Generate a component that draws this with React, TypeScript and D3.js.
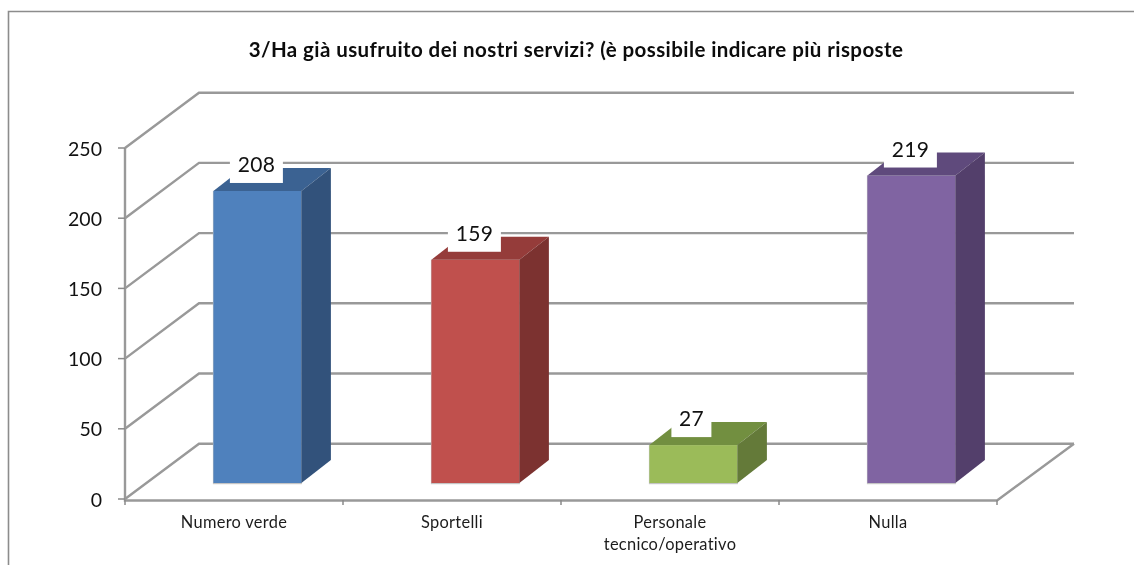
import React from "react";
import * as d3 from "d3";

const title = "3/Ha già usufruito dei nostri servizi? (è possibile indicare più risposte";
const categories = ["Numero verde", "Sportelli", "Personale|tecnico/operativo", "Nulla"];
const values = [208, 159, 27, 219];
const yTicks = [0, 50, 100, 150, 200, 250];
const faceColors = ["#4f81bd", "#c0504d", "#9bbb59", "#8064a2"];
const sideColors = ["#32527b", "#7c3230", "#647a39", "#533f6b"];
const topColors = ["#3b6292", "#953c3a", "#728f40", "#5f4a7c"];

const W = 1134;
const H = 565;
const FONT = "Lato, Carlito, Calibri, sans-serif";
const GRID = "#999999";

const x = d3.scaleBand<string>().domain(categories).range([125, 997]).paddingInner(0).paddingOuter(0);
const y = d3.scaleLinear().domain([0, 250]).range([499, 148]);
const backLeft = 199;
const backRight = 1074;
const wallDy = -55.3;
const barFront = 483;
const barLeft = 88.4;
const barWidth = 88;
const barDx = 29.5;
const barDy = -23;
const yBar = (v: number) => barFront - (y(0) - y(v));

export default function App() {
  const step = x.bandwidth();
  const [x0Axis, x1Axis] = x.range();
  return (
    <svg
      width={W}
      height={H}
      viewBox={`0 0 ${W} ${H}`}
      style={{ position: "absolute", left: 0, top: 0, filter: "blur(0.45px)" }}
    >
      <rect width={W} height={H} fill="#ffffff" />
      <path d={`M8.5 ${H}V11.5H${W}`} fill="none" stroke="#8c8c8c" strokeWidth={1.6} />
      <text
        x={576}
        y={57}
        textAnchor="middle"
        fontFamily={FONT}
        fontWeight={700}
        fontSize={20.5}
        letterSpacing={0.42}
        fill="#0c0c0c"
      >
        {title}
      </text>

      {/* walls and gridlines */}
      <g fill="none" stroke={GRID} strokeWidth={2.4}>
        {yTicks.map((t) => (
          <path key={t} d={`M${x0Axis} ${y(t)}L${backLeft} ${y(t) + wallDy}H${backRight}`} />
        ))}
        <path d={`M${x0Axis} ${y(250)}V${y(0) + 1.5}H${x1Axis}L${backRight} ${y(0) + wallDy}`} />
      </g>
      <g stroke="#8a8a8a" strokeWidth={1.5}>
        {yTicks.map((t) => (
          <line key={t} x1={118} x2={125} y1={y(t)} y2={y(t)} />
        ))}
        {[...categories.map((c) => x(c) as number), x1Axis].map((px) => (
          <line key={px} x1={px} x2={px} y1={y(0) + 1} y2={y(0) + 6} />
        ))}
      </g>

      {yTicks.map((t) => (
        <text key={t} x={102} y={y(t) + 7.5} textAnchor="end" fontFamily={FONT} fontSize={19.5} fill="#111">
          {t}
        </text>
      ))}

      {/* bars */}
      {categories.map((c, i) => {
        const x0 = (x(c) as number) + barLeft;
        const x1 = x0 + barWidth;
        const top = yBar(values[i]);
        return (
          <g key={c}>
            <rect x={x0 - 0.5} y={top} width={barWidth + 1} height={barFront - top + 1.2} fill="#c4c4c4" />
            <rect x={x0} y={top} width={barWidth} height={barFront - top} fill={faceColors[i]} />
            <path
              d={`M${x0} ${top}L${x0 + barDx} ${top + barDy}H${x1 + barDx}L${x1} ${top}Z`}
              fill={topColors[i]}
            />
            <path
              d={`M${x1} ${top}L${x1 + barDx} ${top + barDy}V${barFront + barDy}L${x1} ${barFront}Z`}
              fill={sideColors[i]}
            />
          </g>
        );
      })}

      {/* value labels */}
      {categories.map((c, i) => {
        const top = yBar(values[i]);
        const wide = values[i] >= 100;
        const cx = (x(c) as number) + barLeft + (wide ? 43 : 42);
        const w = wide ? 53 : 40;
        const bottom = top - 8;
        return (
          <g key={c}>
            <rect x={cx - w / 2} y={bottom - 26} width={w} height={26} fill="#ffffff" />
            <text x={cx} y={bottom - 11} textAnchor="middle" fontFamily={FONT} fontSize={21} letterSpacing={0.3} fill="#111">
              {values[i]}
            </text>
          </g>
        );
      })}

      {/* category labels */}
      {categories.map((c) => (
        <text key={c} textAnchor="middle" fontFamily={FONT} fontSize={16.4} letterSpacing={0.3} fill="#1c1c1c">
          {c.split("|").map((line, j) => (
            <tspan key={j} x={(x(c) as number) + step / 2} y={528 + j * 21.5}>
              {line}
            </tspan>
          ))}
        </text>
      ))}
    </svg>
  );
}
